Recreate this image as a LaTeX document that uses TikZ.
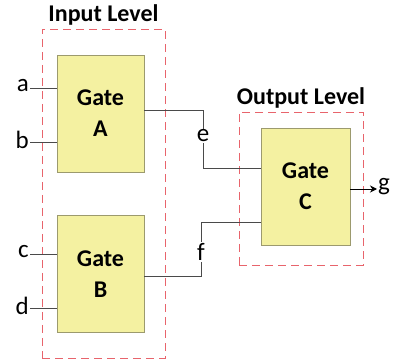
\documentclass[tikz,border=0pt]{standalone}
\usepackage{fontspec}
\setmainfont{Carlito}
\usetikzlibrary{positioning, arrows.meta, calc}
\definecolor{gatefill}{HTML}{F4F1A1}
\definecolor{gateline}{HTML}{9C9A6E}
\definecolor{levelred}{HTML}{E8646C}
\definecolor{wiregray}{HTML}{4A4A4A}
\tikzset{
  gate/.style={draw=gateline, line width=0.9pt, fill=gatefill, align=center, font=\fontsize{24}{28}\selectfont\bfseries, minimum width=87pt, minimum height=117pt, inner sep=0pt},
  level/.style={draw=levelred, line width=0.9pt, dash pattern=on 8pt off 5pt, minimum width=#1, inner sep=0pt},
  leveltitle/.style={font=\fontsize{24}{28}\selectfont\bfseries, inner sep=0pt},
  pin/.style={font=\fontsize{25}{29}\selectfont, inner sep=1pt},
  wire/.style={line width=0.9pt, draw=wiregray},
  outwire/.style={-{Stealth[length=7pt, width=7pt]}, line width=0.9pt, draw=black},
}
\begin{document}
\begin{tikzpicture}[x=1pt, y=-1pt]
  \useasboundingbox (0,0) rectangle (400,361);
  % level frames
  \node[level=123pt, minimum height=329pt] (inlevel) at (103.5,193.5) {};
  \node[level=124pt, minimum height=153pt] (outlevel) at (301,188.5) {};
  \node[leveltitle, above=3pt of inlevel] (intitle) {Input Level};
  \node[leveltitle, above=3pt of outlevel] (outtitle) {Output Level};

  % gates
  \node[gate] (gateA) at (100.5,113.5) {Gate\\[3pt]A};
  \node[gate] (gateB) at (100.5,274) {Gate\\[3pt]B};
  \node[gate, minimum width=89pt] (gateC) at (305.5,186.5) {Gate\\[3pt]C};

  % inputs
  \node[pin, anchor=east] (a) at (30,86) {a};
  \node[pin, anchor=east] (b) at (30,140) {b};
  \node[pin, anchor=east] (c) at (30,252) {c};
  \node[pin, anchor=east] (d) at (30,306) {d};
  \draw[wire] (a.east |- 0,88) -- (gateA.west |- 0,88);
  \draw[wire] (b.east |- 0,142) -- (gateA.west |- 0,142);
  \draw[wire] (c.east |- 0,254) -- (gateB.west |- 0,254);
  \draw[wire] (d.east |- 0,308) -- (gateB.west |- 0,308);

  % internal signals
  \node[pin] (e) at (203,136) {e};
  \node[pin] (f) at (201,252) {f};
  \draw[wire] (gateA.east |- 0,110) -| (e.north);
  \draw[wire] (e.south) |- (gateC.west |- 0,168);
  \draw[wire] (gateB.east |- 0,276) -| (f.south);
  \draw[wire] (f.north) |- (gateC.west |- 0,222);

  % output
  \node[pin, anchor=west] (g) at (377,187) {g};
  \draw[outwire] (gateC.east |- 0,189) -- (g.west |- 0,189);
\end{tikzpicture}
\end{document}
